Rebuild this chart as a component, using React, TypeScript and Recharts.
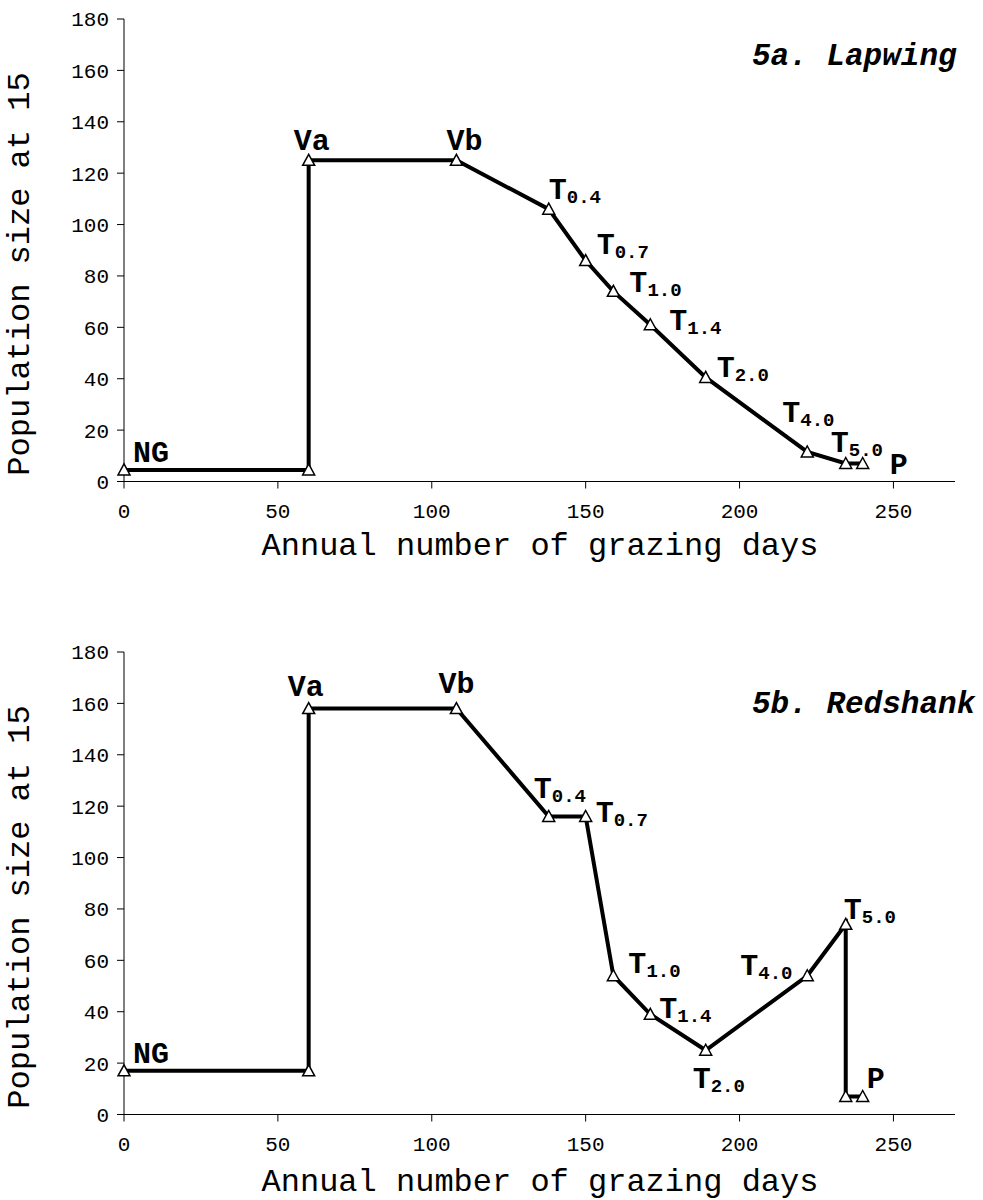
import { LineChart, Line, XAxis, YAxis } from "recharts";

// grazing days (x) and population size at 15 years (y)
const lapwingDays = [0, 60, 60, 108, 138, 150, 159, 171, 189, 222, 234.5, 240];
const lapwingPop = [4.5, 4.5, 125, 125, 106, 86, 74, 61, 40.5, 11.5, 7, 7];
const lapwingLabels = ["NG", "", "Va", "Vb", "T0.4", "T0.7", "T1.0", "T1.4", "T2.0", "T4.0", "T5.0", "P"];

const redshankDays = [0, 60, 60, 108, 138, 150, 159, 171, 189, 222, 234.5, 234.5, 240];
const redshankPop = [17, 17, 158, 158, 116, 116, 54, 39, 25, 54, 74, 7, 7];
const redshankLabels = ["NG", "", "Va", "Vb", "T0.4", "T0.7", "T1.0", "T1.4", "T2.0", "T4.0", "T5.0", "", "P"];

const xTicks = [0, 50, 100, 150, 200, 250];
const yTicks = [0, 20, 40, 60, 80, 100, 120, 140, 160, 180];

const MONO = "'Liberation Mono', 'Courier New', monospace";

type Place = { dx: number; dy: number; anchor?: "start" | "middle" };

// where each point label sits relative to its marker
const lapwingPlace: Record<string, Place> = {
  NG: { dx: 9, dy: -8 },
  Va: { dx: 3, dy: -10, anchor: "middle" },
  Vb: { dx: 8, dy: -10, anchor: "middle" },
  "T0.4": { dx: 0, dy: -10 },
  "T0.7": { dx: 11, dy: -7 },
  "T1.0": { dx: 16, dy: 1 },
  "T1.4": { dx: 19, dy: 5 },
  "T2.0": { dx: 11, dy: 0 },
  "T4.0": { dx: -25, dy: -30 },
  "T5.0": { dx: -15, dy: -12 },
  P: { dx: 27, dy: 10 },
};

const redshankPlace: Record<string, Place> = {
  NG: { dx: 9, dy: -8 },
  Va: { dx: -3, dy: -13, anchor: "middle" },
  Vb: { dx: 0, dy: -16, anchor: "middle" },
  "T0.4": { dx: -15, dy: -18 },
  "T0.7": { dx: 10, dy: 6 },
  "T1.0": { dx: 15, dy: -3 },
  "T1.4": { dx: 9, dy: 4 },
  "T2.0": { dx: -13, dy: 38 },
  "T4.0": { dx: -67, dy: -1 },
  "T5.0": { dx: -2, dy: -5 },
  P: { dx: 4, dy: -9 },
};

const makeDot = (place: Record<string, Place>) => (props: any) => {
  const { cx, cy, index, payload } = props;
  const name: string = payload.label;
  const p = place[name];
  return (
    <g key={`pt-${index}`}>
      <polygon
        points={`${cx},${cy - 6} ${cx - 6},${cy + 5} ${cx + 6},${cy + 5}`}
        fill="#fff"
        stroke="#000"
        strokeWidth={1.5}
      />
      {name && p && (
        <text
          x={cx + p.dx}
          y={cy + p.dy}
          textAnchor={p.anchor ?? "start"}
          fontFamily={MONO}
          fontWeight="bold"
          fontSize={30}
          fill="#000"
        >
          {name.startsWith("T") ? (
            <>
              <tspan>T</tspan>
              <tspan fontSize={19} dy={4}>
                {name.slice(1)}
              </tspan>
            </>
          ) : (
            name
          )}
        </text>
      )}
    </g>
  );
};

type PanelProps = {
  days: number[];
  pop: number[];
  labels: string[];
  place: Record<string, Place>;
  title: string;
  titleY: number;
  xTitleY: number;
  top: number;
};

const Panel = ({ days, pop, labels, place, title, titleY, xTitleY, top }: PanelProps) => {
  const data = days.map((d, i) => ({ days: d, pop: pop[i], label: labels[i] }));
  const tick = { fill: "#000", fontSize: 21, fontFamily: MONO };

  return (
    <div style={{ position: "absolute", left: 0, top, width: 983, height: 567 }}>
      <LineChart
        width={983}
        height={567}
        data={data}
        margin={{ top: 19, right: 28, bottom: 25.5, left: 64 }}
      >
        <XAxis
          type="number"
          dataKey="days"
          domain={[0, 270]}
          ticks={xTicks}
          interval={0}
          height={60}
          tickSize={7}
          tickMargin={15}
          axisLine={{ stroke: "#000", strokeWidth: 1 }}
          tickLine={{ stroke: "#000", strokeWidth: 1 }}
          tick={tick}
        />
        <YAxis
          type="number"
          domain={[0, 180]}
          ticks={yTicks}
          interval={0}
          width={60}
          tickSize={7}
          tickMargin={8}
          axisLine={{ stroke: "#000", strokeWidth: 1 }}
          tickLine={{ stroke: "#000", strokeWidth: 1 }}
          tick={tick}
        />
        <Line
          type="linear"
          dataKey="pop"
          stroke="#000"
          strokeWidth={4}
          dot={makeDot(place)}
          activeDot={false}
          isAnimationActive={false}
        />

        {/* titles */}
        <text
          x={29}
          y={274}
          transform="rotate(-90 29 274)"
          textAnchor="middle"
          fontFamily={MONO}
          fontSize={32}
          fill="#000"
        >
          Population size at 15
        </text>
        <text x={540} y={xTitleY} textAnchor="middle" fontFamily={MONO} fontSize={32} fill="#000">
          Annual number of grazing days
        </text>
        <text
          x={752}
          y={titleY}
          fontFamily={MONO}
          fontSize={31}
          fontWeight="bold"
          fontStyle="italic"
          fill="#000"
        >
          {title}
        </text>
      </LineChart>
    </div>
  );
};

export default function App() {
  return (
    <div
      style={{
        position: "absolute",
        left: 0,
        top: 0,
        width: 983,
        height: 1200,
        overflow: "hidden",
        background: "#fff",
      }}
    >
      <Panel
        days={lapwingDays}
        pop={lapwingPop}
        labels={lapwingLabels}
        place={lapwingPlace}
        title="5a. Lapwing"
        titleY={65}
        xTitleY={555}
        top={0}
      />
      <Panel
        days={redshankDays}
        pop={redshankPop}
        labels={redshankLabels}
        place={redshankPlace}
        title="5b. Redshank"
        titleY={80}
        xTitleY={558}
        top={633}
      />
    </div>
  );
}
